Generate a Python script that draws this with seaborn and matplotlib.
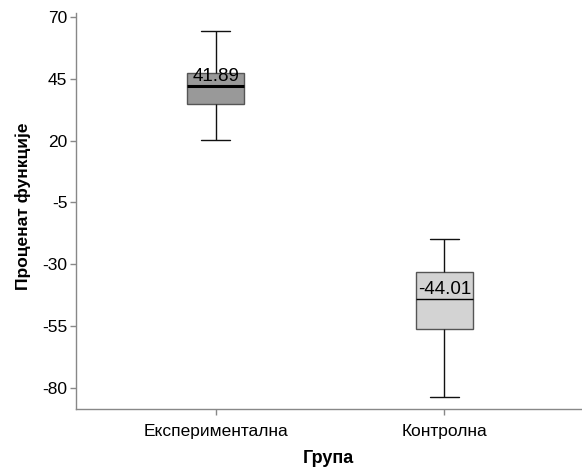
import numpy as np
import pandas as pd
import matplotlib
matplotlib.use("Agg")
import matplotlib.pyplot as plt
import seaborn as sns

# Five-number summaries per group: min, Q1, median, Q3, max
groups = ["Експериментална", "Контролна"]
exp_values = [20.2, 34.6, 41.89, 47.4, 64.2]
ctrl_values = [-83.7, -56.3, -44.01, -33.2, -19.8]
medians = [41.89, -44.01]
fill_colors = ["#999999", "#d3d3d3"]
y_ticks = [70, 45, 20, -5, -30, -55, -80]

df = pd.DataFrame({
    "Група": [groups[0]] * len(exp_values) + [groups[1]] * len(ctrl_values),
    "Проценат функције": exp_values + ctrl_values,
})

sns.set_style("white")
plt.rcParams["font.family"] = ["Liberation Sans", "DejaVu Sans"]

fig = plt.figure(figsize=(5.82, 4.70), dpi=100)
ax = fig.add_axes([0.130, 0.130, 0.870, 0.842])

sns.boxplot(
    data=df, x="Група", y="Проценат функције", hue="Група",
    order=groups, hue_order=groups, palette=fill_colors,
    width=0.25, whis=3.0, linewidth=1.0, linecolor="#555555",
    whiskerprops={"color": "#111111"}, capprops={"color": "#111111"},
    medianprops={"color": "#000000", "linewidth": 1.0},
    legend=False, ax=ax,
)

# Heavier median for the first group
for line in ax.lines:
    xd, yd = line.get_xdata(), line.get_ydata()
    if len(xd) == 2 and yd[0] == yd[1] and np.isclose(yd[0], medians[0]) \
            and abs(xd[1] - xd[0]) > 0.2:
        line.set_linewidth(2.2)

for i, m in enumerate(medians):
    ax.text(i, m + 0.6, f"{m:.2f}", ha="center", va="bottom",
            fontsize=13.5, color="#000000")

ax.set_xlim(-0.612, 1.602)
ax.set_ylim(-88.4, 71.5)
ax.set_yticks(y_ticks)
ax.set_yticklabels([str(t) for t in y_ticks])

for side in ["top", "right"]:
    ax.spines[side].set_visible(False)
for side in ["left", "bottom"]:
    ax.spines[side].set_color("#888888")
    ax.spines[side].set_linewidth(1.0)

ax.tick_params(axis="both", which="major", direction="out", length=4,
               width=1.0, color="#888888", labelsize=12.5, labelcolor="#000000",
               bottom=True, left=True, pad=2)
ax.tick_params(axis="x", pad=7)

ax.set_xlabel("Група", fontsize=13, fontweight="bold", labelpad=8,
              color="#000000")
ax.set_ylabel("Проценат функције", fontsize=12.5, fontweight="bold",
              labelpad=8, color="#000000")
ax.yaxis.label.set_y(0.513)

fig.savefig("out.png", dpi=100)
